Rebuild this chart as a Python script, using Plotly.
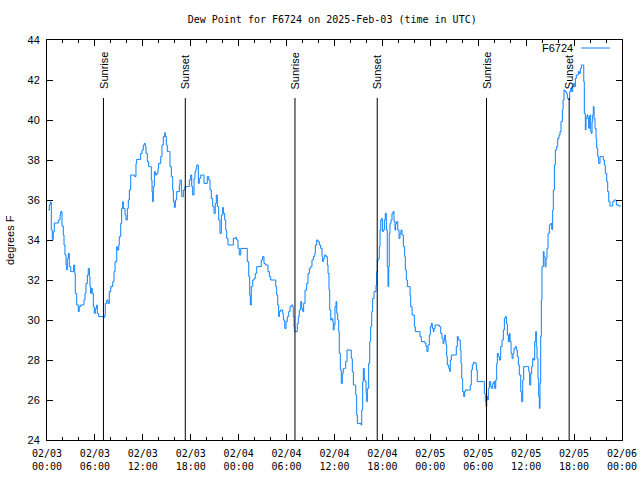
import pandas as pd
import plotly.graph_objects as go

# ---------------- data ----------------
station = "F6724"
start = "2025-02-03 00:00"
end = "2025-02-06 00:00"

# hours since 2025-02-03 00:00 UTC
hours = [
    0.16, 0.29, 0.41, 0.54, 0.66, 0.79, 0.91, 1.42, 1.63, 1.72, 1.88, 2.04, 2.13, 2.25, 2.38, 2.47,
    2.54, 2.67, 2.79, 2.97, 3.22, 3.34, 3.47, 3.54, 3.72, 3.92, 4.04, 4.22, 4.47, 4.63, 4.76, 4.88,
    5.05, 5.17, 5.30, 5.38, 5.47, 5.55, 5.67, 5.80, 5.92, 6.05, 6.22, 6.30, 6.47, 7.05, 7.23, 7.30,
    7.48, 7.64, 7.80, 7.98, 8.14, 8.23, 8.39, 8.52, 8.73, 8.80, 8.98, 9.05, 9.23, 9.35, 9.48, 9.55,
    9.77, 9.89, 10.06, 10.18, 10.31, 10.48, 10.81, 10.98, 11.14, 11.23, 11.65, 11.73, 11.90, 12.06, 12.18, 12.31,
    12.40, 12.56, 12.73, 12.98, 13.06, 13.15, 13.23, 13.31, 13.44, 13.56, 13.73, 13.90, 13.98, 14.24, 14.40, 14.56,
    14.74, 14.81, 14.94, 15.06, 15.24, 15.40, 15.57, 15.74, 15.82, 15.94, 16.07, 16.24, 16.40, 16.57, 16.65, 16.82,
    16.87, 17.07, 17.28, 17.57, 17.82, 17.99, 18.12, 18.24, 18.41, 18.53, 18.66, 18.75, 18.95, 19.07, 19.25, 19.50,
    19.66, 19.91, 20.07, 20.25, 20.41, 20.57, 20.75, 20.91, 21.07, 21.20, 21.33, 21.50, 21.66, 21.83, 22.00, 22.08,
    22.25, 22.38, 22.50, 22.66, 23.17, 23.33, 23.58, 23.75, 23.92, 24.08, 24.26, 24.92, 25.08, 25.26, 25.38, 25.46,
    25.58, 25.76, 25.92, 26.08, 26.26, 26.67, 26.83, 27.01, 27.17, 27.34, 27.51, 27.67, 27.84, 28.01, 28.51, 28.64,
    28.76, 28.89, 29.01, 29.09, 29.26, 29.43, 29.51, 29.59, 29.77, 29.93, 30.09, 30.27, 30.43, 30.59, 30.77, 30.84,
    30.93, 31.02, 31.18, 31.34, 31.47, 31.59, 31.77, 31.89, 32.02, 32.14, 32.31, 32.52, 32.68, 32.85, 33.02, 33.18,
    33.35, 33.52, 33.60, 33.77, 33.93, 34.10, 34.27, 34.44, 34.52, 34.60, 34.77, 34.94, 35.10, 35.19, 35.31, 35.40,
    35.53, 35.65, 35.78, 35.85, 35.94, 36.06, 36.19, 36.28, 36.40, 36.53, 36.60, 36.73, 36.85, 36.98, 37.10, 37.28,
    37.40, 37.57, 37.94, 38.10, 38.23, 38.36, 38.53, 38.66, 38.78, 38.86, 39.19, 39.32, 39.41, 39.53, 39.61, 39.73,
    39.86, 39.95, 40.03, 40.11, 40.28, 40.41, 40.53, 40.66, 40.78, 40.95, 41.07, 41.20, 41.28, 41.36, 41.54, 41.61,
    41.70, 41.79, 41.91, 41.99, 42.11, 42.24, 42.36, 42.49, 42.61, 42.70, 42.79, 42.86, 42.95, 43.08, 43.20, 43.33,
    43.45, 43.58, 43.66, 43.79, 43.92, 44.08, 44.20, 44.33, 44.45, 44.62, 44.79, 44.87, 44.99, 45.12, 45.33, 45.46,
    45.54, 45.71, 45.87, 46.00, 46.12, 46.58, 46.71, 46.87, 47.33, 47.46, 47.58, 47.71, 47.87, 48.00, 48.12, 48.25,
    48.37, 48.46, 48.59, 48.96, 49.12, 49.30, 49.46, 49.59, 49.71, 49.80, 49.88, 49.96, 50.05, 50.13, 50.30, 50.43,
    50.50, 50.63, 51.13, 51.25, 51.38, 51.50, 51.63, 51.75, 51.84, 51.93, 52.05, 52.18, 52.30, 52.38, 52.88, 53.01,
    53.13, 53.26, 53.38, 53.63, 53.76, 53.88, 54.63, 54.76, 54.88, 54.97, 55.06, 55.18, 55.26, 55.39, 55.56, 55.69,
    55.81, 55.94, 56.06, 56.19, 56.31, 56.39, 56.51, 56.64, 56.81, 56.98, 57.14, 57.27, 57.39, 57.52, 57.64, 57.77,
    57.89, 57.98, 58.11, 58.23, 58.36, 58.48, 58.64, 58.77, 58.89, 59.02, 59.14, 59.32, 59.44, 59.57, 59.69, 60.14,
    60.32, 60.44, 60.57, 60.69, 60.82, 60.94, 61.07, 61.20, 61.27, 61.36, 61.48, 61.57, 61.65, 61.73, 61.82, 61.90,
    61.98, 62.15, 62.24, 62.36, 62.49, 62.61, 62.74, 62.90, 63.07, 63.20, 63.32, 63.40, 63.53, 63.65, 63.82, 63.95,
    64.11, 64.24, 64.36, 64.53, 64.62, 64.74, 64.86, 65.03, 65.15, 65.33, 65.45, 65.58, 65.70, 65.83, 65.95, 66.03,
    66.16, 66.28, 66.41, 66.53, 66.66, 66.78, 66.91, 67.08, 67.21, 67.28, 67.41, 67.49, 67.62, 67.74, 67.83, 67.91,
    68.00, 68.08, 68.16, 68.25, 68.33, 68.41, 68.50, 68.62, 68.75, 68.83, 68.96, 69.08, 69.25, 69.50, 69.66, 69.79,
    69.91, 70.09, 70.21, 70.34, 70.50, 70.66, 70.84, 71.01, 71.17, 71.29, 71.59, 71.85,
]

# dew point, degrees F
dewpoint = [
    35.5, 35.75, 35.9, 34.5, 34.03, 34.4, 34.85, 35.0, 35.25, 35.42, 34.7, 34.25, 33.75, 33.25, 32.75, 32.5,
    33.08, 33.33, 32.67, 32.42, 32.42, 32.75, 32.33, 31.33, 30.75, 30.42, 30.67, 30.75, 30.75, 31.0, 31.33, 31.83,
    32.25, 32.58, 32.17, 31.67, 31.33, 31.58, 31.33, 30.67, 30.33, 30.58, 30.75, 30.33, 30.17, 30.13, 30.25, 30.83,
    31.0, 30.83, 31.42, 31.67, 31.67, 31.92, 32.42, 32.92, 33.67, 33.5, 33.75, 34.17, 34.83, 35.58, 35.92, 35.58,
    35.25, 35.0, 35.58, 36.0, 36.5, 37.25, 37.25, 37.17, 37.83, 38.03, 38.03, 38.33, 38.5, 38.75, 38.83, 38.67,
    38.33, 37.92, 37.67, 37.67, 37.0, 36.42, 35.92, 36.67, 37.42, 37.25, 37.33, 37.58, 37.83, 38.17, 38.75, 39.17,
    39.37, 39.17, 38.75, 38.42, 38.42, 37.67, 37.17, 36.5, 35.92, 35.63, 36.0, 36.42, 36.42, 36.75, 37.0, 36.5,
    36.17, 36.5, 36.67, 36.67, 37.0, 37.25, 36.67, 36.25, 37.08, 37.42, 37.58, 37.75, 36.83, 37.08, 37.25, 37.25,
    36.83, 36.83, 37.17, 37.0, 36.5, 36.08, 35.67, 35.33, 35.83, 36.25, 35.67, 35.0, 34.33, 35.25, 35.63, 35.33,
    35.0, 34.5, 34.08, 33.75, 33.75, 34.08, 34.13, 34.0, 33.58, 33.25, 33.58, 33.58, 32.92, 32.17, 31.25, 30.75,
    31.67, 32.0, 32.08, 32.33, 32.67, 32.67, 33.0, 33.17, 32.83, 32.75, 32.75, 32.42, 32.17, 32.0, 32.0, 31.67,
    31.25, 30.75, 30.17, 30.42, 30.5, 30.5, 30.33, 30.0, 29.58, 29.92, 30.17, 30.42, 30.67, 30.75, 30.67, 30.17,
    29.67, 29.42, 29.42, 29.83, 30.17, 30.5, 30.92, 30.58, 30.42, 30.83, 31.5, 31.83, 32.33, 32.58, 32.67, 33.0,
    33.17, 33.33, 33.75, 34.0, 33.92, 33.75, 33.58, 33.17, 32.92, 33.08, 33.25, 33.17, 32.75, 32.33, 31.5, 30.5,
    30.0, 30.08, 29.92, 29.5, 29.75, 30.67, 30.92, 30.33, 30.0, 29.42, 28.33, 27.5, 26.83, 27.33, 27.58, 27.58,
    27.92, 28.5, 28.5, 28.08, 27.42, 26.75, 26.75, 26.25, 25.25, 24.83, 24.83, 24.75, 25.5, 26.92, 27.58, 27.0,
    26.92, 26.33, 25.92, 26.58, 27.83, 28.92, 29.67, 30.42, 31.08, 31.42, 31.42, 31.75, 32.42, 33.0, 33.08, 33.67,
    34.5, 35.0, 35.08, 34.42, 34.5, 35.0, 35.33, 34.5, 32.67, 31.67, 32.67, 34.33, 34.83, 35.0, 35.33, 35.42,
    34.92, 34.5, 34.83, 34.92, 34.5, 34.08, 34.33, 34.5, 34.25, 33.67, 33.17, 32.5, 32.0, 31.67, 31.67, 31.25,
    30.67, 30.25, 30.25, 29.67, 29.42, 29.42, 29.17, 28.92, 28.83, 28.67, 28.42, 28.75, 29.25, 29.67, 29.83, 29.58,
    29.42, 29.58, 29.75, 29.75, 29.67, 29.33, 29.08, 28.83, 29.0, 29.25, 29.0, 28.75, 28.17, 27.75, 27.58, 27.42,
    28.0, 28.25, 28.25, 28.67, 29.17, 29.0, 29.0, 28.5, 27.83, 27.08, 26.42, 26.17, 26.42, 26.5, 26.5, 26.75,
    27.5, 27.75, 27.87, 27.83, 27.5, 26.92, 26.92, 26.33, 25.92, 25.67, 26.17, 26.0, 26.58, 26.92, 26.67, 26.58,
    26.83, 26.92, 26.58, 27.0, 27.83, 28.33, 28.17, 28.0, 28.67, 29.0, 29.5, 30.08, 30.17, 29.83, 29.25, 28.92,
    29.33, 28.92, 28.33, 28.08, 28.33, 28.58, 28.67, 28.5, 28.17, 27.75, 27.25, 26.42, 25.92, 27.0, 27.67, 27.67,
    27.42, 26.75, 27.33, 27.67, 28.08, 28.0, 28.92, 29.42, 28.67, 28.08, 27.08, 26.17, 25.58, 26.83, 29.17, 31.0,
    32.67, 33.42, 33.17, 32.67, 33.08, 33.58, 34.33, 34.75, 34.83, 34.53, 35.5, 36.5, 37.75, 38.5, 38.67, 39.08,
    39.25, 39.42, 39.92, 40.5, 41.0, 41.5, 41.42, 41.33, 41.08, 41.0, 41.42, 41.58, 41.42, 41.67, 41.83, 41.67,
    42.08, 42.25, 42.25, 42.42, 42.33, 42.58, 42.75, 42.75, 41.92, 40.33, 39.5, 40.08, 40.25, 40.08, 39.58, 40.17,
    40.25, 39.42, 39.33, 39.92, 40.25, 40.67, 40.08, 39.58, 39.08, 38.58, 38.17, 37.83, 38.17, 38.17, 38.0, 37.75,
    37.33, 36.92, 36.42, 35.92, 35.7, 35.7, 35.92, 36.0, 36.0, 35.75, 35.7, 35.7,
]

# sun events (UTC)
sun_labels = ["Sunrise", "Sunset", "Sunrise", "Sunset", "Sunrise", "Sunset"]
sun_times = ["2025-02-03 07:04", "2025-02-03 17:19", "2025-02-04 07:03",
             "2025-02-04 17:21", "2025-02-05 07:02", "2025-02-05 17:23"]
sun_line_top = 41.1

title_text = "Dew Point for F6724 on 2025-Feb-03 (time in UTC)"
y_label = "degrees F"
y_range = [24, 44]

# ---------------- figure ----------------
times = pd.Timestamp(start) + pd.to_timedelta(hours, unit="h")
blue = "#0a80ff"
mono = "DejaVu Sans Mono"
sans = "Liberation Sans, Arial, sans-serif"

fig = go.Figure()
fig.add_trace(go.Scatter(x=times, y=dewpoint, mode="lines", line=dict(color=blue, width=1, shape="hv"),
                         showlegend=False, hoverinfo="skip"))

for lab, t in zip(sun_labels, sun_times):
    fig.add_shape(type="line", xref="x", yref="y", x0=t, x1=t, y0=y_range[0], y1=sun_line_top,
                  line=dict(color="black", width=1))
    fig.add_annotation(x=t, y=sun_line_top, xref="x", yref="y", text=lab, textangle=-90,
                       showarrow=False, xanchor="center", yanchor="bottom", yshift=7,
                       font=dict(family=sans, size=11, color="black"))

# legend (gnuplot style: text then sample line)
fig.add_annotation(x=0.918, y=0.98, xref="paper", yref="paper", text=station, showarrow=False,
                   xanchor="right", yanchor="middle", font=dict(family=sans, size=11, color="black"))
fig.add_shape(type="line", xref="paper", yref="paper", x0=0.929, x1=0.979, y0=0.98, y1=0.98,
              line=dict(color=blue, width=1))

fig.add_annotation(x=-0.0643, y=0.5, xref="paper", yref="paper", text=y_label, textangle=-90,
                   showarrow=False, xanchor="center", yanchor="middle",
                   font=dict(family=sans, size=11, color="black"))

fig.update_layout(
    width=640, height=480,
    margin=dict(l=47, r=18, t=40, b=40, autoexpand=False),
    paper_bgcolor="white", plot_bgcolor="white",
    title=dict(text=title_text, x=0.496, xref="paper", xanchor="center", y=1 - 19 / 480,
               yref="container", yanchor="middle", font=dict(family=mono, size=10, color="black")),
    xaxis=dict(type="date", range=[start, end], showgrid=False, zeroline=False, automargin=False,
               showline=True, linecolor="black", linewidth=1, mirror="allticks",
               ticks="inside", ticklen=6, tickcolor="black", tickwidth=1,
               dtick=6 * 3600 * 1000, tick0=start, tickformat="%m/%d<br>%H:%M",
               ticklabelstandoff=4, ticklabeloverflow="allow",
               tickfont=dict(family=mono, size=10, color="black"),
               minor=dict(dtick=2 * 3600 * 1000, ticks="inside", ticklen=3, tickcolor="black", showgrid=False)),
    yaxis=dict(range=y_range, showgrid=False, zeroline=False, automargin=False,
               showline=True, linecolor="black", linewidth=1, mirror="allticks",
               ticks="inside", ticklen=6, tickcolor="black", tickwidth=1, dtick=2, tick0=24,
               ticklabelstandoff=4,
               tickfont=dict(family=sans, size=11, color="black")),
)

# remove the browser's default 8px body margin so the 640x480 figure fills the window exactly
fig.write_html("out.html", config={"displayModeBar": False, "staticPlot": True},
               post_script="document.body.style.margin='0';document.body.style.overflow='hidden';")
